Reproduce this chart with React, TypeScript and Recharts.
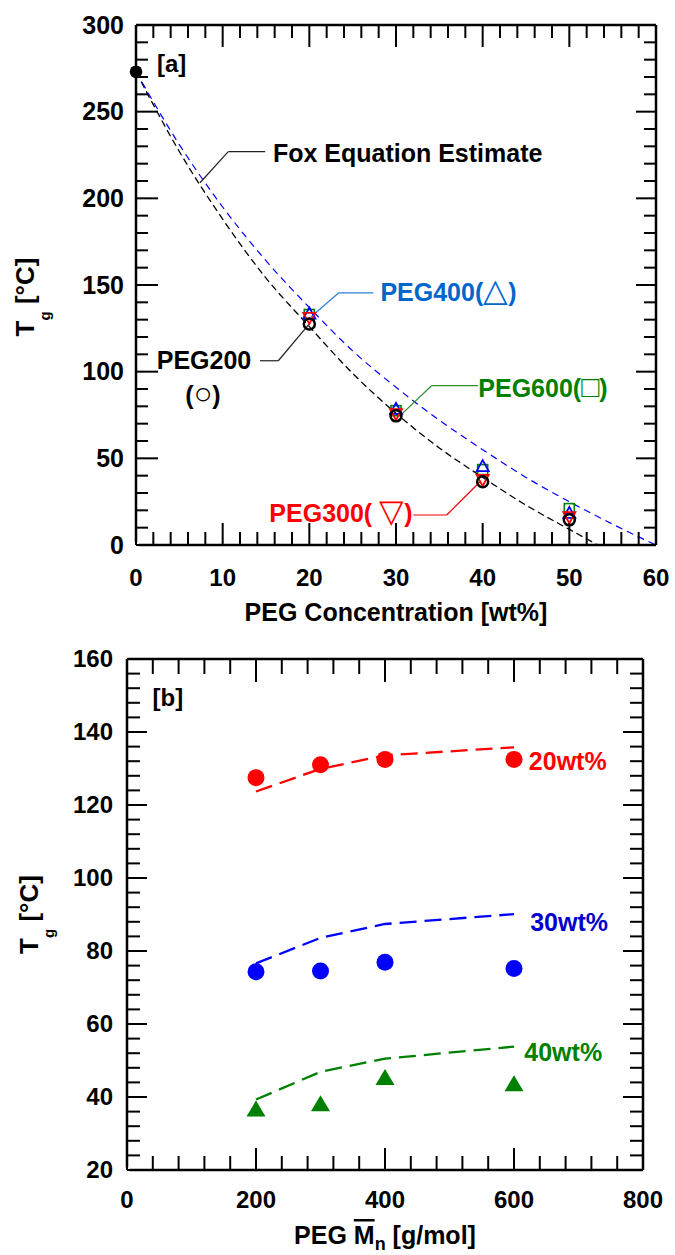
import React from 'react';
import { ComposedChart, Line, XAxis, YAxis, ReferenceLine, ReferenceDot, Label } from 'recharts';

const FONT = "'Liberation Sans', Arial, Helvetica, sans-serif";

// ---------- Panel [a] ----------
const concTicks = [0, 2, 4, 6, 8, 10, 12, 14, 16, 18, 20, 22, 24, 26, 28, 30, 32, 34, 36, 38, 40, 42, 44, 46, 48, 50, 52, 54, 56, 58, 60];
const concLabels = [0, 10, 20, 30, 40, 50, 60];
const tgTicksA = [0, 10, 20, 30, 40, 50, 60, 70, 80, 90, 100, 110, 120, 130, 140, 150, 160, 170, 180, 190, 200, 210, 220, 230, 240, 250, 260, 270, 280, 290, 300];
const tgLabelsA = [0, 50, 100, 150, 200, 250, 300];

const foxLowConc = [0, 5, 10, 15, 20, 25, 30, 35, 40, 45, 50, 53.3];
const foxLowTg = [273, 227, 188, 154, 126, 99, 76, 56, 39, 23, 9, 0];
const foxHighConc = [0, 5, 10, 15, 20, 25, 30, 35, 40, 45, 50, 55, 60];
const foxHighTg = [273, 231, 195, 164, 137, 112, 91, 72, 55, 39, 25, 12, 0];

const pegConc = [20, 30, 40, 50];
const peg200Tg = [127.5, 74.5, 36.5, 14.5];
const peg300Tg = [131, 75.5, 37.5, 16];
const peg400Tg = [133.5, 78.5, 45.5, 18.5];
const peg600Tg = [133, 77.5, 43.5, 21];
const pureConc = [0];
const pureTg = [273];

// ---------- Panel [b] ----------
const mnTicks = [0, 40, 80, 120, 160, 200, 240, 280, 320, 360, 400, 440, 480, 520, 560, 600, 640, 680, 720, 760, 800];
const mnLabels = [0, 200, 400, 600, 800];
const tgTicksB = [20, 24, 28, 32, 36, 40, 44, 48, 52, 56, 60, 64, 68, 72, 76, 80, 84, 88, 92, 96, 100, 104, 108, 112, 116, 120, 124, 128, 132, 136, 140, 144, 148, 152, 156, 160];
const tgLabelsB = [20, 40, 60, 80, 100, 120, 140, 160];

const mnValues = [200, 300, 400, 600];
const tg20 = [127.5, 131, 132.5, 132.5];
const fit20 = [123.7, 129.9, 133.6, 135.8];
const tg30 = [74.3, 74.5, 76.9, 75.2];
const fit30 = [76.6, 83.6, 87.4, 90.1];
const tg40 = [36.6, 38, 45.2, 43.5];
const fit40 = [39.3, 46.9, 50.5, 53.8];

const pts = (xs: number[], ys: number[]) => xs.map((x, i) => ({ x, y: ys[i] }));

const AXIS = { stroke: '#000', strokeWidth: 2.5 };

type Side = 'bottom' | 'top' | 'left' | 'right';
function makeTick(side: Side, majors: number[], showText: boolean, majorLen: number, minorLen: number, fontSize: number, offset: number) {
  return (props: any) => {
    const { x, y, payload } = props;
    const v = payload.value;
    const major = majors.some((m) => Math.abs(m - v) < 1e-6);
    const len = major ? majorLen : minorLen;
    let x2 = x, y2 = y;
    if (side === 'bottom') y2 = y - len;
    if (side === 'top') y2 = y + len;
    if (side === 'left') x2 = x + len;
    if (side === 'right') x2 = x - len;
    let txt = null;
    if (showText && major) {
      if (side === 'bottom') {
        txt = <text x={x} y={y + offset} dy="0.35em" textAnchor="middle" fontFamily={FONT} fontWeight="bold" fontSize={fontSize} fill="#000">{v}</text>;
      } else if (side === 'left') {
        txt = <text x={x - offset} y={y} dy="0.35em" textAnchor="end" fontFamily={FONT} fontWeight="bold" fontSize={fontSize} fill="#000">{v}</text>;
      }
    }
    return (
      <g>
        <line x1={x} y1={y} x2={x2} y2={y2} stroke="#000" strokeWidth={2} />
        {txt}
      </g>
    );
  };
}

const annot = (content: React.ReactNode, color: string, anchor: 'start' | 'middle' | 'end', fontSize = 25) => (props: any) => {
  const vb = props.viewBox || {};
  const cx = (vb.x || 0) + (vb.width || 0) / 2;
  const cy = (vb.y || 0) + (vb.height || 0) / 2;
  return (
    <text x={cx} y={cy} dy="0.35em" textAnchor={anchor} fill={color} fontFamily={FONT} fontWeight="bold" fontSize={fontSize}>
      {content}
    </text>
  );
};

const sym = (s: string, size: number, weight: string = 'normal') => (
  <tspan fontSize={size} fontWeight={weight}>{s}</tspan>
);

const yTitle = (baseX: number, shiftY: number) => (props: any) => {
  const vb = props.viewBox || {};
  const cx = (vb.x || 0) + baseX;
  const cy = (vb.y || 0) + (vb.height || 0) / 2 + shiftY;
  return (
    <text x={cx} y={cy} transform={`rotate(-90, ${cx}, ${cy})`} textAnchor="middle" fontFamily={FONT} fontWeight="bold" fontSize={26} fill="#000">
      <tspan>T</tspan>
      <tspan dy={16} fontSize={15}>g</tspan>
      <tspan dy={-16}>{'  [°C]'}</tspan>
    </text>
  );
};

const xTitleA = (props: any) => {
  const vb = props.viewBox || {};
  return (
    <text x={vb.x + vb.width / 2} y={vb.y + 76} textAnchor="middle" fontFamily={FONT} fontWeight="bold" fontSize={25} fill="#000">
      PEG Concentration [wt%]
    </text>
  );
};

const xTitleB = (props: any) => {
  const vb = props.viewBox || {};
  return (
    <text x={vb.x + vb.width / 2} y={vb.y + 74} textAnchor="middle" fontFamily={FONT} fontWeight="bold" fontSize={25} fill="#000">
      <tspan>PEG </tspan>
      <tspan style={{ textDecoration: 'overline' }}>M</tspan>
      <tspan dy={6} fontSize={18}>n</tspan>
      <tspan dy={-6}> [g/mol]</tspan>
    </text>
  );
};

// marker shapes
const openCircle = (color: string) => (p: any) => (
  <circle key={`c${p.index}`} cx={p.cx} cy={p.cy} r={5.5} fill="none" stroke={color} strokeWidth={2.5} />
);
const filledCircle = (color: string, r: number) => (p: any) => (
  <circle key={`f${p.index}`} cx={p.cx} cy={p.cy} r={r} fill={color} stroke="none" />
);
const openTriUp = (color: string) => (p: any) => (
  <polygon key={`u${p.index}`} points={`${p.cx},${p.cy - 6} ${p.cx - 6},${p.cy + 5} ${p.cx + 6},${p.cy + 5}`} fill="none" stroke={color} strokeWidth={1.8} />
);
const openTriDown = (color: string) => (p: any) => (
  <polygon key={`d${p.index}`} points={`${p.cx - 6},${p.cy - 5} ${p.cx + 6},${p.cy - 5} ${p.cx},${p.cy + 6}`} fill="none" stroke={color} strokeWidth={1.8} />
);
const openSquare = (color: string) => (p: any) => (
  <rect key={`s${p.index}`} x={p.cx - 5} y={p.cy - 5} width={10} height={10} fill="none" stroke={color} strokeWidth={1.6} />
);
const filledTri = (color: string) => (p: any) => (
  <polygon key={`t${p.index}`} points={`${p.cx},${p.cy - 9} ${p.cx - 9.5},${p.cy + 7} ${p.cx + 9.5},${p.cy + 7}`} fill={color} stroke="none" />
);

function PanelA() {
  return (
    <ComposedChart width={675} height={640} margin={{ top: 24, right: 18, left: 0, bottom: 0 }}>
      <XAxis dataKey="x" type="number" domain={[0, 60]} ticks={concTicks} interval={0} tickSize={0} tickMargin={0} tickLine={false}
        axisLine={AXIS} tick={makeTick('bottom', concLabels, true, 22, 13, 24, 33)} height={95}>
        <Label content={xTitleA} />
      </XAxis>
      <XAxis xAxisId="top" orientation="top" dataKey="x" type="number" domain={[0, 60]} ticks={concTicks} interval={0} tickSize={0} tickMargin={0}
        tickLine={false} axisLine={AXIS} tick={makeTick('top', concLabels, false, 22, 13, 24, 0)} height={1} />
      <YAxis dataKey="y" type="number" domain={[0, 300]} ticks={tgTicksA} interval={0} tickSize={0} tickMargin={0} tickLine={false}
        axisLine={AXIS} tick={makeTick('left', tgLabelsA, true, 22, 12, 25, 12)} width={136}>
        <Label content={yTitle(34, 12)} />
      </YAxis>
      <YAxis yAxisId="right" orientation="right" dataKey="y" type="number" domain={[0, 300]} ticks={tgTicksA} interval={0} tickSize={0} tickMargin={0}
        tickLine={false} axisLine={AXIS} tick={makeTick('right', tgLabelsA, false, 20, 12, 25, 0)} width={1} />

      <Line data={[{ x: 0, y: 0 }]} dataKey="y" xAxisId="top" yAxisId="right" stroke="none" dot={false} activeDot={false} isAnimationActive={false} />

      <Line data={pts(foxLowConc, foxLowTg)} dataKey="y" type="monotone" stroke="#000" strokeWidth={1.3} strokeDasharray="7 4" dot={false} activeDot={false} isAnimationActive={false} />
      <Line data={pts(foxHighConc, foxHighTg)} dataKey="y" type="monotone" stroke="#0000FF" strokeWidth={1.2} strokeDasharray="7 5" dot={false} activeDot={false} isAnimationActive={false} />

      <ReferenceLine segment={[{ x: 7.38, y: 209 }, { x: 10.65, y: 227 }]} stroke="#222" strokeWidth={1.2} />
      <ReferenceLine segment={[{ x: 10.65, y: 227 }, { x: 14.9, y: 227 }]} stroke="#222" strokeWidth={1.2} />
      <ReferenceLine segment={[{ x: 20.2, y: 131.7 }, { x: 23.4, y: 145.5 }]} stroke="#2A7FDB" strokeWidth={1.2} />
      <ReferenceLine segment={[{ x: 23.4, y: 145.5 }, { x: 27.4, y: 145.5 }]} stroke="#2A7FDB" strokeWidth={1.2} />
      <ReferenceLine segment={[{ x: 30.65, y: 75.5 }, { x: 34.1, y: 91.9 }]} stroke="#2E8B2E" strokeWidth={1.2} />
      <ReferenceLine segment={[{ x: 34.1, y: 91.9 }, { x: 39.45, y: 91.9 }]} stroke="#2E8B2E" strokeWidth={1.2} />
      <ReferenceLine segment={[{ x: 39.7, y: 36.5 }, { x: 35.85, y: 17.3 }]} stroke="#FF0000" strokeWidth={1.2} />
      <ReferenceLine segment={[{ x: 35.85, y: 17.3 }, { x: 32.0, y: 17.3 }]} stroke="#FF0000" strokeWidth={1.2} />
      <ReferenceLine segment={[{ x: 20.07, y: 128 }, { x: 16.42, y: 106.3 }]} stroke="#222" strokeWidth={1.2} />
      <ReferenceLine segment={[{ x: 16.42, y: 106.3 }, { x: 14.3, y: 106.3 }]} stroke="#222" strokeWidth={1.2} />

      <Line data={pts(pegConc, peg600Tg)} dataKey="y" stroke="none" dot={openSquare('#008000')} activeDot={false} isAnimationActive={false} />
      <Line data={pts(pegConc, peg400Tg)} dataKey="y" stroke="none" dot={openTriUp('#0000FF')} activeDot={false} isAnimationActive={false} />
      <Line data={pts(pegConc, peg300Tg)} dataKey="y" stroke="none" dot={openTriDown('#FF0000')} activeDot={false} isAnimationActive={false} />
      <Line data={pts(pegConc, peg200Tg)} dataKey="y" stroke="none" dot={openCircle('#000')} activeDot={false} isAnimationActive={false} />
      <Line data={pts(pureConc, pureTg)} dataKey="y" stroke="none" dot={filledCircle('#000', 6.3)} activeDot={false} isAnimationActive={false} />

      <ReferenceDot x={2.42} y={277.5} r={0} fill="none" stroke="none" label={annot('[a]', '#000', 'start', 24)} />
      <ReferenceDot x={15.8} y={226} r={0} fill="none" stroke="none" label={annot('Fox Equation Estimate', '#000', 'start')} />
      <ReferenceDot x={28.2} y={145.7} r={0} fill="none" stroke="none" label={annot(<>PEG400({sym('△', 32)})</>, '#0066CC', 'start')} />
      <ReferenceDot x={39.5} y={90.6} r={0} fill="none" stroke="none" label={annot(<>PEG600({sym('□', 30)})</>, '#008000', 'start')} />
      <ReferenceDot x={31.9} y={18.2} r={0} fill="none" stroke="none" label={annot(<>PEG300( {sym('▽', 32)})</>, '#FF0000', 'end')} />
      <ReferenceDot x={7.85} y={106.5} r={0} fill="none" stroke="none" label={annot('PEG200', '#000', 'middle')} />
      <ReferenceDot x={7.73} y={86.5} r={0} fill="none" stroke="none" label={annot(<>({sym('○', 31, 'bold')})</>, '#000', 'middle')} />
    </ComposedChart>
  );
}

function PanelB() {
  return (
    <ComposedChart width={675} height={615} margin={{ top: 18, right: 31, left: 0, bottom: 0 }}>
      <XAxis dataKey="x" type="number" domain={[0, 800]} ticks={mnTicks} interval={0} tickSize={0} tickMargin={0} tickLine={false}
        axisLine={AXIS} tick={makeTick('bottom', mnLabels, true, 22, 14, 24, 30)} height={85}>
        <Label content={xTitleB} />
      </XAxis>
      <XAxis xAxisId="top" orientation="top" dataKey="x" type="number" domain={[0, 800]} ticks={mnTicks} interval={0} tickSize={0} tickMargin={0}
        tickLine={false} axisLine={AXIS} tick={makeTick('top', mnLabels, false, 23, 15, 24, 0)} height={1} />
      <YAxis dataKey="y" type="number" domain={[20, 160]} ticks={tgTicksB} interval={0} tickSize={0} tickMargin={0} tickLine={false}
        axisLine={AXIS} tick={makeTick('left', tgLabelsB, true, 20, 13, 24, 14)} width={127}>
        <Label content={yTitle(38, 0)} />
      </YAxis>
      <YAxis yAxisId="right" orientation="right" dataKey="y" type="number" domain={[20, 160]} ticks={tgTicksB} interval={0} tickSize={0} tickMargin={0}
        tickLine={false} axisLine={AXIS} tick={makeTick('right', tgLabelsB, false, 20, 13, 24, 0)} width={1} />

      <Line data={[{ x: 0, y: 20 }]} dataKey="y" xAxisId="top" yAxisId="right" stroke="none" dot={false} activeDot={false} isAnimationActive={false} />

      <Line data={pts(mnValues, fit20)} dataKey="y" type="linear" stroke="#FF0000" strokeWidth={2.3} strokeDasharray="17 8" dot={false} activeDot={false} isAnimationActive={false} />
      <Line data={pts(mnValues, fit30)} dataKey="y" type="linear" stroke="#0000FF" strokeWidth={2.3} strokeDasharray="17 8" dot={false} activeDot={false} isAnimationActive={false} />
      <Line data={pts(mnValues, fit40)} dataKey="y" type="linear" stroke="#008000" strokeWidth={2.3} strokeDasharray="17 8" dot={false} activeDot={false} isAnimationActive={false} />

      <Line data={pts(mnValues, tg20)} dataKey="y" stroke="none" dot={filledCircle('#FF0000', 8.5)} activeDot={false} isAnimationActive={false} />
      <Line data={pts(mnValues, tg30)} dataKey="y" stroke="none" dot={filledCircle('#0000FF', 8.5)} activeDot={false} isAnimationActive={false} />
      <Line data={pts(mnValues, tg40)} dataKey="y" stroke="none" dot={filledTri('#008000')} activeDot={false} isAnimationActive={false} />

      <ReferenceDot x={39.7} y={149.3} r={0} fill="none" stroke="none" label={annot('[b]', '#000', 'start', 24)} />
      <ReferenceDot x={623} y={132} r={0} fill="none" stroke="none" label={annot('20wt%', '#FF0000', 'start')} />
      <ReferenceDot x={625} y={88} r={0} fill="none" stroke="none" label={annot('30wt%', '#0000CC', 'start')} />
      <ReferenceDot x={616} y={52.3} r={0} fill="none" stroke="none" label={annot('40wt%', '#008000', 'start')} />
    </ComposedChart>
  );
}

export default function App() {
  return (
    <div style={{ position: 'absolute', left: 0, top: 0, width: 675, height: 1255, background: '#fff', overflow: 'hidden' }}>
      <div style={{ position: 'absolute', left: 0, top: 0 }}>
        <PanelA />
      </div>
      <div style={{ position: 'absolute', left: 0, top: 640 }}>
        <PanelB />
      </div>
    </div>
  );
}
